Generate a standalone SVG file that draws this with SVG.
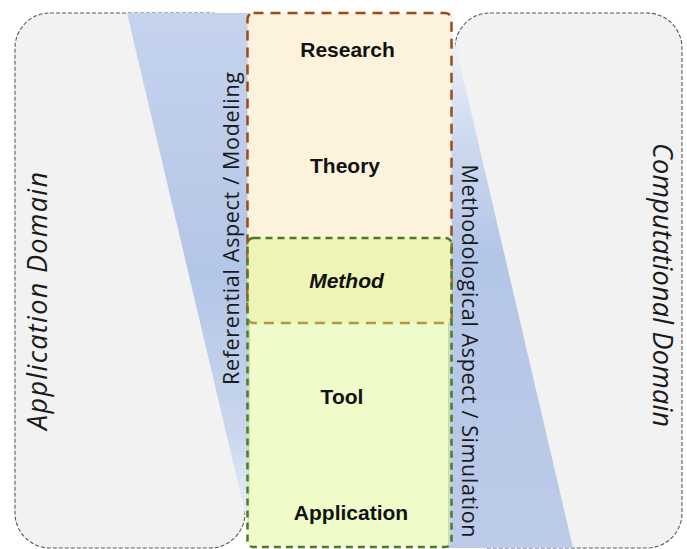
<svg xmlns="http://www.w3.org/2000/svg" width="687" height="549" viewBox="0 0 687 549">
  <defs>
    <linearGradient id="bandL" gradientUnits="userSpaceOnUse" x1="0" y1="13" x2="0" y2="540">
      <stop offset="0" stop-color="#c5d3ed"/>
      <stop offset="0.5" stop-color="#b4c6e7"/>
      <stop offset="0.8" stop-color="#c9d7ee"/>
      <stop offset="1" stop-color="#f3f6fb"/>
    </linearGradient>
    <linearGradient id="bandR" gradientUnits="userSpaceOnUse" x1="0" y1="13" x2="0" y2="548">
      <stop offset="0" stop-color="#f6f8fc"/>
      <stop offset="0.25" stop-color="#cbd8ef"/>
      <stop offset="0.45" stop-color="#b4c6e7"/>
      <stop offset="1" stop-color="#bccbe9"/>
    </linearGradient>
    <style>
      .domain { fill: #f2f2f2; stroke: #5a5a5a; stroke-width: 1.1; stroke-dasharray: 4 2; }
      .dtext { font-family: "Open Sans", "Liberation Sans", sans-serif; font-style: italic; font-size: 27px; fill: #1a1a1a; text-anchor: middle; }
      .atext { font-family: "Open Sans", "Liberation Sans", sans-serif; font-size: 21.5px; fill: #1a1a1a; text-anchor: middle; }
      .ntext { font-family: "Liberation Sans", Arial, sans-serif; font-weight: bold; font-size: 21px; fill: #111; text-anchor: middle; }
      .orange { fill: #fdf3dc; stroke: #9c4a17; stroke-width: 2.5; stroke-dasharray: 10 7; }
      .green { fill: #dbf583; fill-opacity: 0.44; stroke: #4f7a28; stroke-width: 2.5; stroke-dasharray: 7 5; }
    </style>
  </defs>

  <g id="application-domain">
    <rect class="domain" x="15" y="13" width="230" height="535" rx="35" ry="35"/>
  </g>
  <g id="computational-domain">
    <rect class="domain" x="455" y="13" width="227" height="535" rx="35" ry="35"/>
  </g>

  <g id="connectors">
    <polygon id="referential-band" points="127,13 250,13 250,534" fill="url(#bandL)"/>
    <polygon id="methodological-band" points="448,13 573,548 448,548" fill="url(#bandR)"/>
  </g>

  <g id="research-theory">
    <rect class="orange" x="247.5" y="13" width="204" height="310" rx="6" ry="6"/>
  </g>
  <g id="method-tool-application">
    <rect class="green" x="247.5" y="238" width="204" height="309" rx="6" ry="6"/>
  </g>

  <g id="labels">
    <text class="dtext" transform="translate(47,301) rotate(-90)" textLength="258">Application Domain</text>
    <text class="dtext" transform="translate(653,285) rotate(90)" textLength="284">Computational Domain</text>
    <text class="atext" transform="translate(239,228.5) rotate(-90)" textLength="313">Referential Aspect / Modeling</text>
    <text class="atext" transform="translate(462,351) rotate(90)" textLength="373">Methodological Aspect / Simulation</text>
  </g>

  <g id="node-research"><text class="ntext" x="347.5" y="57">Research</text></g>
  <g id="node-theory"><text class="ntext" x="345" y="173">Theory</text></g>
  <g id="node-method"><text class="ntext" x="346.5" y="288" font-style="italic">Method</text></g>
  <g id="node-tool"><text class="ntext" x="342" y="404">Tool</text></g>
  <g id="node-application"><text class="ntext" x="351" y="520">Application</text></g>
</svg>
